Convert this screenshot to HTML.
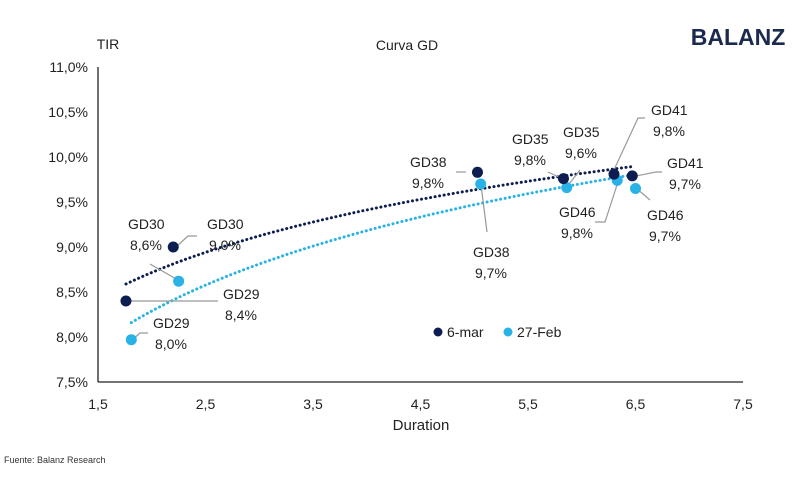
<!DOCTYPE html>
<html><head><meta charset="utf-8"><style>
body{margin:0;background:#fff;}
svg text{font-family:"Liberation Sans",Arial,sans-serif;}
</style></head><body>
<svg id="c" width="800" height="497" xmlns="http://www.w3.org/2000/svg">
<text x="738" y="45" font-size="23" font-weight="bold" fill="#1b2a4e" text-anchor="middle">BALANZ</text>
<text x="407" y="50" font-size="14" fill="#222" text-anchor="middle">Curva GD</text>
<text x="108" y="49" font-size="14" fill="#222" text-anchor="middle">TIR</text>
<text x="421" y="430" font-size="15" fill="#222" text-anchor="middle">Duration</text>
<text x="4" y="463" font-size="9" fill="#333">Fuente: Balanz Research</text>
<g id="axes"></g><g id="trend"></g><g id="leaders"></g><g id="marks"></g><g id="labels"></g>
<g>
<circle cx="438" cy="332" r="4.5" fill="#0d1d4f"/>
<text x="447" y="337" font-size="14" fill="#222">6-mar</text>
<circle cx="508" cy="332" r="4.5" fill="#29b2e6"/>
<text x="517" y="337" font-size="14" fill="#222">27-Feb</text>
</g>
</svg>
<script>
const xTicks=[1.5,2.5,3.5,4.5,5.5,6.5,7.5];
const xTickLabels=["1,5","2,5","3,5","4,5","5,5","6,5","7,5"];
const yTicks=[7.5,8.0,8.5,9.0,9.5,10.0,10.5,11.0];
const yTickLabels=["7,5%","8,0%","8,5%","9,0%","9,5%","10,0%","10,5%","11,0%"];
const bonds=["GD29","GD30","GD38","GD35","GD46","GD41"];
const durMar=[1.76,2.2,5.03,5.83,6.3,6.47];
const tirMar=[8.4,9.0,9.83,9.76,9.81,9.79];
const durFeb=[1.81,2.25,5.06,5.86,6.33,6.5];
const tirFeb=[7.97,8.62,9.7,9.66,9.74,9.65];
const X=v=>98+(v-1.5)*107.5;
const Y=v=>382-(v-7.5)*90;
const NS="http://www.w3.org/2000/svg";
function mk(p,t,a){const e=document.createElementNS(NS,t);for(const k in a)e.setAttribute(k,a[k]);document.getElementById(p).appendChild(e);return e;}
let e=mk('axes','line',{x1:98,y1:67,x2:98,y2:382,stroke:'#222','stroke-width':1.3});


e=mk('axes','line',{x1:98,y1:382,x2:743,y2:382,stroke:'#222','stroke-width':1.3});


xTicks.forEach((t,i)=>{const el=mk('axes','text',{x:X(t),y:409,'font-size':14,fill:'#222','text-anchor':'middle'});el.textContent=xTickLabels[i];

});
yTicks.forEach((t,i)=>{const el=mk('axes','text',{x:88,y:Y(t)+5,'font-size':14,fill:'#222','text-anchor':'end'});el.textContent=yTickLabels[i];

});
function logfit(xs,ys){const n=xs.length;let sx=0,sy=0,sxx=0,sxy=0;xs.forEach((x,i)=>{const l=Math.log(x);sx+=l;sy+=ys[i];sxx+=l*l;sxy+=l*ys[i];});const b=(n*sxy-sx*sy)/(n*sxx-sx*sx);return [(sy-b*sx)/n,b];}
function trend(xs,ys,col,name){const [a,b]=logfit(xs,ys);const x0=Math.min(...xs),x1=Math.max(...xs);let d='';for(let k=0;k<=60;k++){const x=x0+(x1-x0)*k/60;d+=(k?'L':'M')+X(x).toFixed(1)+','+Y(a+b*Math.log(x)).toFixed(1);}
const p=mk('trend','path',{d:d,fill:'none',stroke:col,'stroke-width':3,'stroke-dasharray':'0.1 4.5','stroke-linecap':'round'});

}
trend(durMar,tirMar,'#0d1d4f','trendline-6-mar');
trend(durFeb,tirFeb,'#29b2e6','trendline-27-feb');
durFeb.forEach((d,i)=>{const c=mk('marks','circle',{cx:X(d),cy:Y(tirFeb[i]),r:5.5,fill:'#29b2e6'});

});
durMar.forEach((d,i)=>{const c=mk('marks','circle',{cx:X(d),cy:Y(tirMar[i]),r:5.5,fill:'#0d1d4f'});

});
const ann=[
["GD29","8,4%",222,299,"M128,301 L218,301"],
["GD29","8,0%",152,328,"M131,341 L140,333 L148,333"],
["GD30","8,6%",127,229,"M178,280 L150,264"],
["GD30","9,0%",206,229,"M176,247 L188,236 L197,236"],
["GD38","9,8%",409,167,"M466,172 L456,172"],
["GD38","9,7%",472,257,"M481,185 L487,232"],
["GD35","9,8%",511,144,"M563,179 L548,172"],
["GD35","9,6%",562,137,"M566,188 L580,170"],
["GD41","9,8%",650,115,"M613,172 L638,118 L645,118"],
["GD41","9,7%",666,168,"M631,177 L656,172 L662,172"],
["GD46","9,8%",558,217,"M617,185 L605,222 L595,222"],
["GD46","9,7%",646,220,"M636,188 L650,200"]];
ann.forEach(a=>{const p=mk('leaders','path',{d:a[4],fill:'none',stroke:'#999','stroke-width':1.2});


const t=mk('labels','text',{x:a[2],y:a[3],'font-size':14,fill:'#222'});
const s1=document.createElementNS(NS,'tspan');s1.setAttribute('x',a[2]+1);s1.textContent=a[0];t.appendChild(s1);
const s2=document.createElementNS(NS,'tspan');s2.setAttribute('x',a[2]+3);s2.setAttribute('dy',21);s2.textContent=a[1];t.appendChild(s2);

});
</script>
</body></html>
